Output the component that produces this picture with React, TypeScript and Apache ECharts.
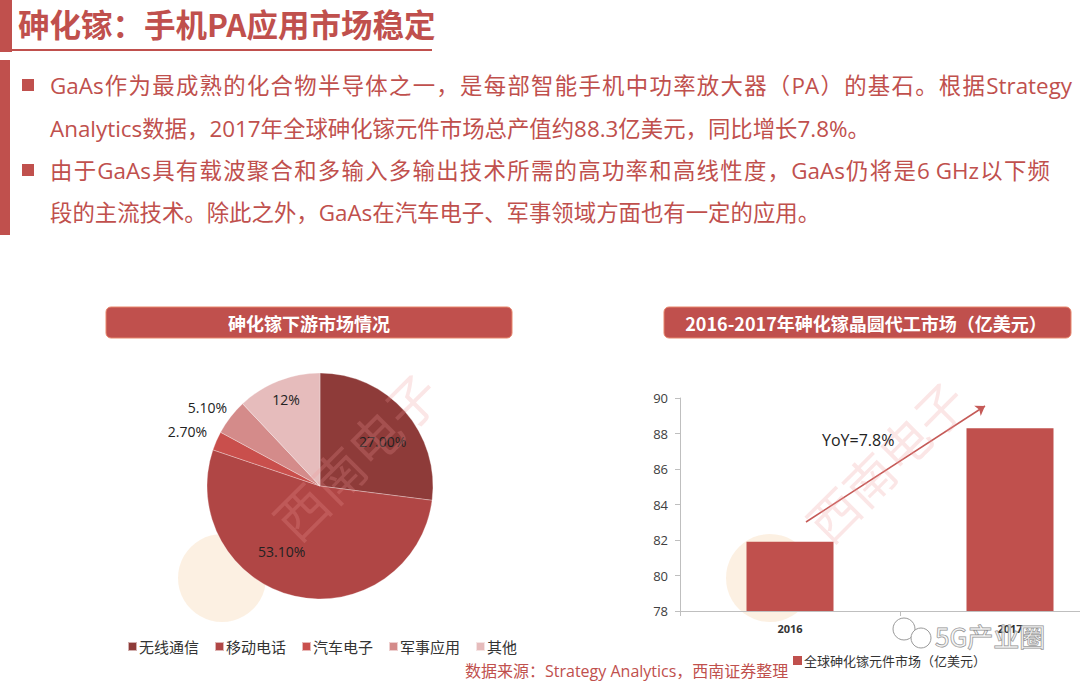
import React, { useEffect, useRef } from "react";
import * as echarts from "echarts";

const pieNames = ["无线通信", "移动电话", "汽车电子", "军事应用", "其他"];
const pieValues = [27.0, 53.1, 2.7, 5.1, 12];
const pieLabels = ["27.00%", "53.10%", "2.70%", "5.10%", "12%"];
const pieColors = ["#8e3b39", "#b04645", "#c94f4c", "#d48b8a", "#e6bcbc"];

const barCategories = ["2016", "2017"];
const barValues = [81.9, 88.3];
const barSeriesName = "全球砷化镓元件市场（亿美元）";

const titleText = "砷化镓：手机PA应用市场稳定";
const bodyLines = [
  "GaAs作为最成熟的化合物半导体之一，是每部智能手机中功率放大器（PA）的基石。根据Strategy",
  "Analytics数据，2017年全球砷化镓元件市场总产值约88.3亿美元，同比增长7.8%。",
  "由于GaAs具有载波聚合和多输入多输出技术所需的高功率和高线性度，GaAs仍将是6 GHz以下频",
  "段的主流技术。除此之外，GaAs在汽车电子、军事领域方面也有一定的应用。",
];
const pieTitle = "砷化镓下游市场情况";
const barTitle = "2016-2017年砷化镓晶圆代工市场（亿美元）";
const sourceText = "数据来源：Strategy Analytics，西南证券整理";
const yoyText = "YoY=7.8%";
const watermarkText = "西南电子";

const RED = "#c0504d";
const CJK = "'Noto Sans CJK SC', sans-serif";
const BODY = "'Open Sans', 'Noto Sans CJK SC', sans-serif";
const BODY_FONT = `22.4px ${BODY}`;

// label nudges (pixels) relative to default positions
const labelNudges: Array<[number, number]> = [
  [18, -5],
  [-25, 8],
  [3, -6],
  [8, -5],
  [-12, -31],
];

function splitUnits(line: string): string[] {
  const units: string[] = [];
  let buf = "";
  for (const ch of line) {
    if (/[A-Za-z0-9.% ]/.test(ch)) {
      buf += ch;
    } else {
      if (buf) units.push(buf);
      buf = "";
      units.push(ch);
    }
  }
  if (buf) units.push(buf);
  return units;
}

function justifiedLine(line: string, x0: number, x1: number, y: number, font: string, fill: string) {
  const ctx = document.createElement("canvas").getContext("2d")!;
  ctx.font = font;
  const units = splitUnits(line);
  const widths = units.map((u) => ctx.measureText(u).width);
  const total = widths.reduce((a, b) => a + b, 0);
  const gap = units.length > 1 ? Math.max(0, (x1 - x0 - total) / (units.length - 1)) : 0;
  let x = x0;
  return units.map((u, i) => {
    const el = {
      type: "text",
      x,
      y,
      silent: true,
      style: { text: u, fill, font, verticalAlign: "middle", align: "left" },
    };
    x += widths[i] + gap;
    return el;
  });
}

export default function App() {
  const ref = useRef<HTMLDivElement>(null);
  useEffect(() => {
    if (!ref.current) return;
    const chart = echarts.init(ref.current, null, { renderer: "svg" });
    const bodyY = [85, 128, 170, 212];
    const graphics: any[] = [
      // left bars
      { type: "rect", shape: { x: 0, y: 0, width: 12, height: 52 }, style: { fill: RED } },
      { type: "rect", shape: { x: 0, y: 60, width: 10, height: 175 }, style: { fill: RED } },
      { type: "line", shape: { x1: 12, y1: 50, x2: 432, y2: 50 }, style: { stroke: RED, lineWidth: 2 } },
      {
        type: "text",
        x: 18,
        y: 23,
        style: { text: titleText, fill: RED, font: `bold 31.5px ${CJK}`, verticalAlign: "middle" },
      },
      // bullets
      { type: "rect", shape: { x: 22, y: 79, width: 12, height: 12 }, style: { fill: RED } },
      { type: "rect", shape: { x: 22, y: 164, width: 12, height: 12 }, style: { fill: RED } },
      ...justifiedLine(bodyLines[0], 50, 1072, bodyY[0], BODY_FONT, RED),
      {
        type: "text",
        x: 50,
        y: bodyY[1],
        style: { text: bodyLines[1], fill: RED, font: BODY_FONT, verticalAlign: "middle", align: "left" },
      },
      ...justifiedLine(bodyLines[2], 50, 1050, bodyY[2], BODY_FONT, RED),
      {
        type: "text",
        x: 50,
        y: bodyY[3],
        style: { text: bodyLines[3], fill: RED, font: BODY_FONT, verticalAlign: "middle", align: "left" },
      },
      // watermark logos
      { type: "circle", shape: { cx: 222, cy: 578, r: 44 }, style: { fill: "rgba(245,205,160,0.3)" }, z: -1 },
      { type: "circle", shape: { cx: 770, cy: 578, r: 44 }, style: { fill: "rgba(245,205,160,0.3)" }, z: -1 },
      // rotated watermark texts
      {
        type: "text",
        x: 355,
        y: 455,
        rotation: Math.PI / 4,
        silent: true,
        z: 50,
        style: { text: watermarkText, fill: "rgba(240,150,150,0.24)", font: `52px ${CJK}`, align: "center", verticalAlign: "middle" },
      },
      {
        type: "text",
        x: 885,
        y: 460,
        rotation: Math.PI / 4,
        silent: true,
        z: 50,
        style: { text: watermarkText, fill: "rgba(240,150,150,0.24)", font: `50px ${CJK}`, align: "center", verticalAlign: "middle" },
      },
      // title boxes
      {
        type: "rect",
        shape: { x: 106, y: 307, width: 406, height: 31, r: 5 },
        style: { fill: RED, stroke: "#e8866c", lineWidth: 1 },
      },
      {
        type: "text",
        x: 309,
        y: 323,
        style: { text: pieTitle, fill: "#fff", font: `bold 18px ${CJK}`, align: "center", verticalAlign: "middle" },
      },
      {
        type: "rect",
        shape: { x: 664, y: 307, width: 407, height: 31, r: 5 },
        style: { fill: RED, stroke: "#e8866c", lineWidth: 1 },
      },
      {
        type: "text",
        x: 866,
        y: 323,
        style: { text: barTitle, fill: "#fff", font: `bold 18px ${CJK}`, align: "center", verticalAlign: "middle" },
      },
      // yoy
      {
        type: "text",
        x: 822,
        y: 440,
        style: { text: yoyText, fill: "#222", font: `16px ${BODY}`, verticalAlign: "middle" },
        z: 60,
      },
      // source
      {
        type: "text",
        x: 465,
        y: 671,
        style: { text: sourceText, fill: RED, font: `16px ${BODY}`, verticalAlign: "middle" },
      },
      // wechat watermark
      { type: "circle", shape: { cx: 904, cy: 629, r: 11 }, style: { fill: "#fff", stroke: "#9a9a9a", lineWidth: 1 }, z: 20 },
      { type: "circle", shape: { cx: 921, cy: 638, r: 10 }, style: { fill: "#fff", stroke: "#9a9a9a", lineWidth: 1 }, z: 20 },
      {
        type: "text",
        x: 935,
        y: 635,
        style: { text: "5G产业圈", fill: "rgba(255,255,255,0.5)", stroke: "#8c8c8c", lineWidth: 1, font: `26px ${CJK}`, verticalAlign: "middle" },
        z: 20,
      },
    ];

    chart.setOption({
      animation: false,
      backgroundColor: "#fff",
      graphic: graphics,
      legend: [
        {
          data: pieNames,
          left: 122,
          top: 634,
          itemWidth: 9,
          itemHeight: 9,
          itemGap: 15,
          icon: "rect",
          textStyle: { fontSize: 15, color: "#333", fontFamily: CJK, padding: [0, 0, 0, -3] },
        },
        {
          data: [barSeriesName],
          left: 788,
          top: 649,
          itemWidth: 9,
          itemHeight: 9,
          icon: "rect",
          textStyle: { fontSize: 13, color: "#333", fontFamily: CJK, padding: [0, 0, 0, -3] },
        },
      ],
      grid: { left: 680, top: 398, width: 440, height: 213, outerBoundsMode: "none", containLabel: false },
      xAxis: {
        type: "category",
        data: barCategories,
        axisLine: { lineStyle: { color: "#bfbfbf" } },
        axisTick: { show: true, lineStyle: { color: "#bfbfbf" }, length: 5 },
        axisLabel: { fontSize: 11, fontWeight: "bold", color: "#333", margin: 12, fontFamily: BODY },
      },
      yAxis: {
        type: "value",
        min: 78,
        max: 90,
        interval: 2,
        splitLine: { show: false },
        axisLine: { show: true, lineStyle: { color: "#bfbfbf" } },
        axisTick: { show: true, lineStyle: { color: "#bfbfbf" }, length: 5 },
        axisLabel: { fontSize: 13, color: "#404040", margin: 12, fontFamily: BODY },
      },
      series: [
        {
          type: "pie",
          name: "pie",
          center: [320, 486],
          radius: 113,
          startAngle: 90,
          clockwise: true,
          data: pieNames.map((n, i) => ({
            name: n,
            value: pieValues[i],
            itemStyle: { color: pieColors[i] },
            label: i === 2 || i === 3 ? { position: "outside" } : { position: "inside" },
          })),
          itemStyle: { borderColor: "rgba(255,255,255,0.6)", borderWidth: 0.5 },
          label: {
            formatter: (p: any) => pieLabels[p.dataIndex],
            fontSize: 14,
            color: "#222",
            fontFamily: BODY,
          },
          labelLine: { show: false, length: 8, length2: 0 },
          labelLayout: (p: any) => ({ dx: labelNudges[p.dataIndex][0], dy: labelNudges[p.dataIndex][1] }),
          emphasis: { disabled: true },
        },
        {
          type: "bar",
          name: barSeriesName,
          data: barValues,
          barWidth: 87,
          itemStyle: { color: RED },
          markLine: {
            silent: true,
            symbol: ["none", "arrow"],
            symbolSize: 9,
            label: { show: false },
            lineStyle: { color: "#c55a57", width: 1.5, type: "solid" },
            data: [[{ x: 806, y: 522 }, { x: 985, y: 406 }]],
          },
        },
      ],
    });
    return () => chart.dispose();
  }, []);
  return <div ref={ref} style={{ position: "fixed", left: 0, top: 0, width: 1080, height: 686 }} />;
}
